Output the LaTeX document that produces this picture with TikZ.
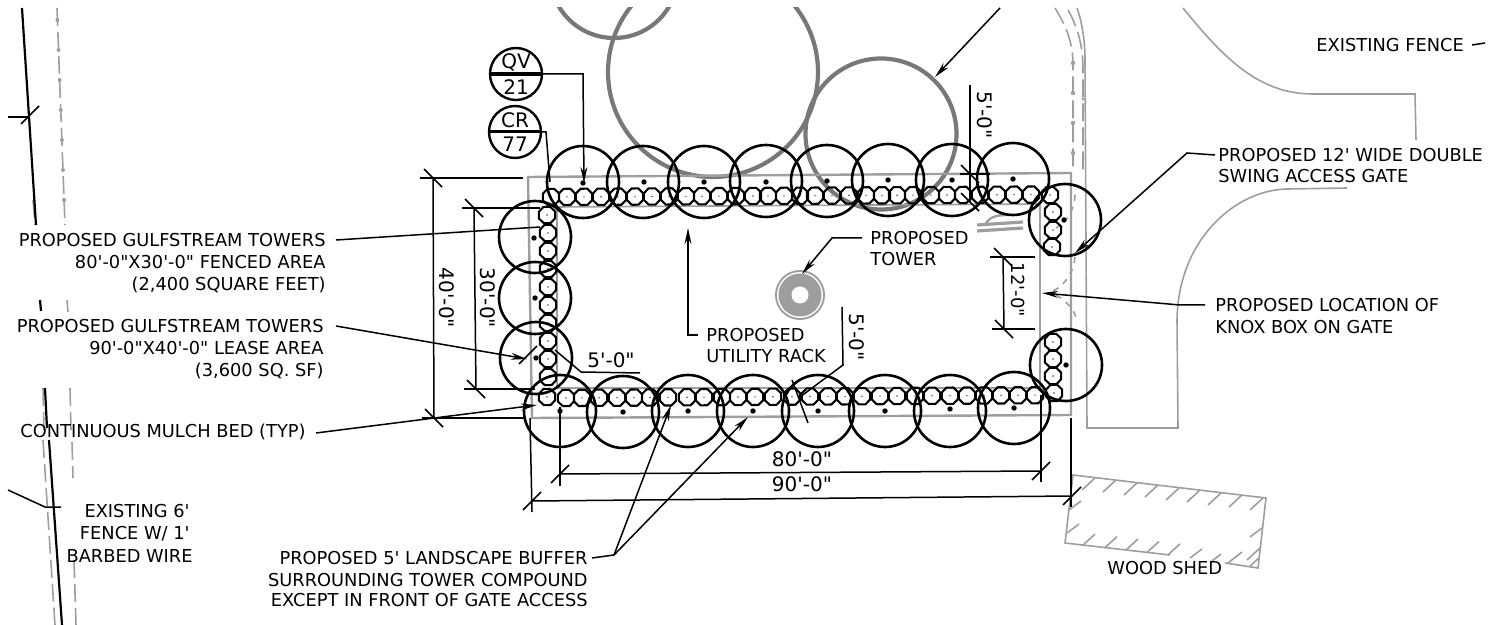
\documentclass[tikz,border=0pt]{standalone}
\usepackage{fontspec}
\usetikzlibrary{arrows.meta}
\newfontfamily\cadfont{DejaVu Sans}
\definecolor{plangray}{gray}{0.62}
\definecolor{treegray}{gray}{0.47}
\tikzset{
  lbl/.style={font=\cadfont\fontsize{8.9}{9}\selectfont,inner sep=0pt,text=black},
  dimlbl/.style={font=\cadfont\fontsize{10}{10}\selectfont,inner sep=0pt,text=black},
  dimsmall/.style={font=\cadfont\fontsize{9}{10}\selectfont,inner sep=0pt,text=black},
  tree/.style={draw=black,line width=1.3pt},
  bigtree/.style={draw=treegray,line width=2.1pt},
  shrubline/.style={draw=black,line width=1.05pt,line join=round},
  leader/.style={draw=black,line width=0.75pt},
  arrowed/.style={leader,-{Stealth[length=8pt,width=3.4pt]}},
  dimline/.style={draw=black,line width=0.75pt},
  site/.style={draw=plangray,line width=0.8pt},
  fencedash/.style={draw=plangray,line width=0.8pt,dash pattern=on 9pt off 3pt},
  compound/.style={draw=plangray,line width=1.2pt},
}
\newcommand{\shrubat}[2]{%
  \draw[shrubline,shift={({#1},{#2})}] (22:8.8)--(67:8.8)--(112:8.8)--(157:8.8)--(202:8.8)--(247:8.8)--(292:8.8)--(337:8.8)--cycle;
  \fill[black!70] ({#1},{#2}) circle (0.8);}
\newcommand{\tickdown}[2]{\draw[dimline] (#1-9,#2-9)--(#1+9,#2+9);}
\newcommand{\tickup}[2]{\draw[dimline] (#1-9,#2+9)--(#1+9,#2-9);}
\begin{document}
\begin{tikzpicture}[x=0.5pt,y=-0.5pt]
\useasboundingbox (0,0) rectangle (1499,625);
\begin{scope}
\clip (0,8) rectangle (1499,625);
% big existing trees
\draw[bigtree] (614,-26) circle (64);
\draw[bigtree] (713,72) circle (105);
\draw[bigtree] (881,134) circle (75.5);
% existing site lines
\draw[site] (1183,8) .. controls (1225,60) and (1260,94) .. (1313,94) -- (1415,94) -- (1416,140);
\draw[site] (1347,188) -- (1287,189) .. controls (1235,190) and (1178,240) .. (1177,320) -- (1178,428) -- (1087,428) -- (1085,60) .. controls (1085,40) and (1082,22) .. (1077,8);
\draw[fencedash] (1055,8) .. controls (1066,26) and (1073,42) .. (1073,65) -- (1073,172);
\draw[fencedash] (1068,10) .. controls (1078,28) and (1083,46) .. (1083,70) -- (1083,172);
% left existing fence
\draw[fencedash] (57,8) -- (65,225);
\draw[fencedash] (67,300) -- (68,312);
\draw[fencedash] (70,388) -- (71,430);
\draw[fencedash] (72,442) -- (73,478);
\draw[fencedash] (74,560) -- (76,625);
\draw[fencedash] (33,200) -- (35,225);
\draw[fencedash] (43,388) -- (44,430);
\draw[fencedash] (43,440) -- (55,625);
\end{scope}
\foreach \b in {20,50,80,110,140,170,200}{\fill[plangray] ({57+(\b-8)*0.0369},\b) circle (2);}
\foreach \b in {63,93,123,153}{\fill[plangray] (1073,\b) circle (2.2);\fill[plangray] (1083,\b+6) circle (1.6);}
\draw[black,line width=1.1pt] (22,8) -- (36,225);
\draw[black,line width=1.1pt] (40,300) -- (41,311);
\draw[black,line width=1.1pt] (45,388) -- (47,428);
\draw[black,line width=1.1pt] (49,440) -- (62,625);
% compound
\draw[compound] (528,177) -- (1071,173) -- (1071,415) -- (532,418) -- cycle;
\draw[site] (1040,257) -- (1040,204) -- (557,207) -- (557,388) -- (1040,388) -- (1040,330);
\draw[site] (1040,257) -- (1040,330);
\draw[site,dashed] (1075,257) .. controls (1074,272) and (1064,288) .. (1048,293);
\draw[site,dashed] (1056,295) .. controls (1068,302) and (1076,312) .. (1077,322);
\draw[site,dashed] (1075,195) .. controls (1074,212) and (1066,222) .. (1056,228);
% gate hardware
\draw[plangray,line width=1.6pt] (977,225) -- (1023,222);
\draw[plangray,line width=1.6pt] (977,231) -- (1023,228);
\draw[plangray,line width=1.2pt] (985,225) .. controls (990,215) and (1000,215) .. (1010,215);
% wood shed
\draw[site] (1170,555) -- (1065,543) -- (1073,475) -- (1266,498) -- (1258,568) -- (1225,563);
\foreach \a/\b in {1095/478,1116/480,1137/483,1158/485,1179/488,1200/490,1221/493,1242/495,1263/498}{
  \draw[site] (\a,\b) -- ++(-13,12);}
\foreach \a in {1083,1105,1126,1147,1168}{
  \draw[site] (\a,{543+(\a-1065)*0.115}) -- ++(12,-11);}
\draw[site] (1190,558) -- ++(12,-9);
\draw[site] (1212,561) -- ++(9,-7);
\draw[site] (1228,563) -- ++(14,-11);
\draw[site] (1262,528) -- ++(-12,9);
\draw[site] (1260,548) -- ++(-13,12);
\draw[site] (1250,566) -- ++(9,-8);
\draw[site] (1069,510) -- ++(12,-9);
\draw[site] (1067,533) -- ++(12,-9);
% tower
\fill[plangray] (800,295) circle (25);
\fill[white] (800,295) circle (23);
\fill[plangray] (800,295) circle (21.5);
\fill[white] (800,295) circle (8.5);
% shrubs
\foreach \a in {551,567,584,601,618,635,652,669,686,702,719,736,753,768,784,800,815,832,849,866,882,897,913,931,947,963,980,997,1014,1031}{
  \shrubat{\a}{197-(\a-551)*0.005}}
\shrubat{1050}{195}
\foreach \a/\b in {547/215,548/233,548/251,548/269,548/287,548/305,548/323,548/341,548/359,548/377,547/397}{\shrubat{\a}{\b}}
\foreach \a/\b in {1053/212,1053/230,1052/247,1053/342,1053/359,1053/376,1054/393}{\shrubat{\a}{\b}}
\foreach \a in {566,582,599,617,634,650,668,687,704,722,738,755,773,792,810,828,845,862,880,897,915,932,950,967,984,1001,1018,1035}{
  \shrubat{\a}{398-(\a-566)*0.006}}
% trees
\foreach \a/\b in {583/182,643/182,704/182,766/181,827/181,888/180,952/180,1013/179,
                   560/411,623/412,688/411,753/411,818/411,885/411,950/411,1014/408,
                   535/237,535/298,536/358,1065/220,1066/365}{
  \draw[tree] (\a,\b) circle (36);}
\foreach \a/\b in {583/183,644/182,704/182,766/182,827/181,888/180,952/180,1013/179,
                   560/411,623/412,688/411,753/411,818/411,885/411,950/409,1014/408,
                   534/238,535/298,536/358,1064/220,1066/365}{
  \fill[black] (\a,\b) circle (2.7);}
% detail callouts
\draw[tree,line width=1.2pt] (516,74) circle (26);
\draw[tree,line width=1.2pt] (515,132) circle (26);
\draw[black,line width=2.2pt] (490,74) -- (542,74);
\draw[black,line width=1.5pt] (489,132) -- (541,132);
\node[dimlbl] (qv) at (516,62) {QV};
\node[dimlbl] (qvn) at (516,87) {21};
\node[dimlbl] (cr) at (515,120) {CR};
\node[dimlbl] (crn) at (515,144) {77};
\coordinate (qvtip) at (584,183);
\coordinate (crtip) at (550,182);
\coordinate (qvrim) at (542,74);
\coordinate (crrim) at (541,132);
\draw[arrowed] (qvrim) -- (583,74) -- (qvtip);
\draw[leader] (crrim) -- (546,132) -- (crtip);
% labels
\node[lbl,anchor=east] (ga) at (326,240) {PROPOSED GULFSTREAM TOWERS};
\node[lbl,anchor=east] (gb) at (326,262) {80'-0"X30'-0" FENCED AREA};
\node[lbl,anchor=east] (gc) at (326,285) {(2,400 SQUARE FEET)};
\node[lbl,anchor=east] (la) at (324,326) {PROPOSED GULFSTREAM TOWERS};
\node[lbl,anchor=east] (lb) at (324,348) {90'-0"X40'-0" LEASE AREA};
\node[lbl,anchor=east] (lc) at (324,371) {(3,600 SQ. SF)};
\node[lbl,anchor=west] (mb) at (20,432) {CONTINUOUS MULCH BED (TYP)};
\node[lbl,anchor=east] (fa) at (190,511) {EXISTING 6'};
\node[lbl,anchor=east] (fb) at (190,534) {FENCE W/ 1'};
\node[lbl,anchor=east] (fc) at (193,556) {BARBED WIRE};
\node[lbl,anchor=east] (ba) at (588,558) {PROPOSED 5' LANDSCAPE BUFFER};
\node[lbl,anchor=east] (bb) at (588,580) {SURROUNDING TOWER COMPOUND};
\node[lbl,anchor=east] (bc) at (588,600) {EXCEPT IN FRONT OF GATE ACCESS};
\node[lbl,anchor=west] (ws) at (1107,568) {WOOD SHED};
\node[lbl,anchor=west] (ka) at (1218,155) {PROPOSED 12' WIDE DOUBLE};
\node[lbl,anchor=west] (kb) at (1218,176) {SWING ACCESS GATE};
\node[lbl,anchor=west] (na) at (1215,305) {PROPOSED LOCATION OF};
\node[lbl,anchor=west] (nb) at (1215,327) {KNOX BOX ON GATE};
\node[lbl,anchor=west] (ef) at (1316,45) {EXISTING FENCE};
\node[lbl,anchor=west] (ua) at (706,335) {PROPOSED};
\node[lbl,anchor=west] (ub) at (706,356) {UTILITY RACK};
\node[lbl,anchor=west] (ta) at (870,238) {PROPOSED};
\node[lbl,anchor=west] (tb) at (870,259) {TOWER};
% leaders
\coordinate (gtip) at (540,227);
\coordinate (ltip) at (527,359);
\coordinate (mtip) at (537,405);
\coordinate (b1) at (671,405);
\coordinate (b2) at (748,417);
\coordinate (btrunk) at (614,555);
\coordinate (gatetip) at (1075,253);
\coordinate (gateelbow) at (1187,153);
\coordinate (knoxtip) at (1042,293);
\coordinate (knoxelbow) at (1180,305);
\coordinate (utip) at (688,228);
\coordinate (uelbow) at (688,335);
\coordinate (ttip) at (802,274);
\coordinate (telbow) at (832,238);
\coordinate (treetip) at (935,77);
\coordinate (treetop) at (1000,8);
\coordinate (efend) at (1485,43);
\coordinate (fenceelbow) at (45,507);
\coordinate (fenceend) at (8,490);
\coordinate (fencetip) at (61,507);
\coordinate (topstub) at (8,117);
\coordinate (topstubend) at (30,117);
\draw[leader] ([xshift=5pt]ga.east) -- (gtip);
\draw[arrowed] ([xshift=6pt]la.east) -- (ltip);
\draw[arrowed] ([xshift=5pt,yshift=-0.5pt]mb.east) -- (mtip);
\draw[leader] ([xshift=2pt]ba.east) -- (btrunk);
\draw[arrowed] (btrunk) -- (b1);
\draw[arrowed] (btrunk) -- (b2);
\draw[arrowed] ([xshift=-1.5pt]ka.west) -- (gateelbow) -- (gatetip);
\draw[arrowed] ([xshift=-5pt]na.west) -- (knoxelbow) -- (knoxtip);
\draw[arrowed] ([xshift=-4pt]ua.west) -- (uelbow) -- (utip);
\draw[arrowed] ([xshift=-4pt]ta.west) -- (telbow) -- (ttip);
\draw[arrowed] (treetop) -- (treetip);
\draw[leader] ([xshift=4pt]ef.east) -- (efend);
\draw[leader] (fenceend) -- (fenceelbow) -- (fencetip);
\draw[leader] (topstub) -- (topstubend);
\tickup{30}{115}
% dimensions
\coordinate (d40a) at (433,178);
\coordinate (d40b) at (434,418);
\draw[dimline] (420,178) -- (523,178);
\draw[dimline] (422,418) -- (525,418);
\draw[dimline] (d40a) -- (d40b);
\tickdown{433}{178}\tickdown{434}{418}
\node[dimlbl,rotate=-90] (d40) at (447,298) {40'-0"};
\coordinate (d30a) at (474,208);
\coordinate (d30b) at (476,389);
\draw[dimline] (462,208) -- (540,208);
\draw[dimline] (464,389) -- (535,389);
\draw[dimline] (d30a) -- (d30b);
\tickdown{474}{208}\tickdown{476}{389}
\node[dimlbl,rotate=-90] (d30) at (488,298) {30'-0"};
\coordinate (d80a) at (560,474);
\coordinate (d80b) at (1041,471);
\draw[dimline] (560,407) -- (560,486);
\draw[dimline] (1041,395) -- (1041,482);
\draw[dimline] (d80a) -- (d80b);
\tickup{560}{474}\tickup{1041}{471}
\node[dimlbl] (d80) at (802,459) {80'-0"};
\coordinate (d90a) at (532,501);
\coordinate (d90b) at (1072,496);
\draw[dimline] (530,418) -- (532,512);
\draw[dimline] (1071,418) -- (1071,507);
\draw[dimline] (d90a) -- (d90b);
\tickup{532}{501}\tickup{1072}{496}
\node[dimlbl] (d90) at (802,484) {90'-0"};
\coordinate (d12a) at (1003,257);
\coordinate (d12b) at (1004,329);
\draw[dimline] (990,257) -- (1035,257);
\draw[dimline] (992,329) -- (1035,329);
\draw[dimline] (d12a) -- (d12b);
\tickdown{1003}{257}\tickdown{1004}{329}
\node[dimsmall,rotate=-90] (d12) at (1018,290) {12'-0"};
\coordinate (d5ta) at (970,85);
\coordinate (d5tb) at (970,202);
\draw[dimline] (d5ta) -- (d5tb);
\draw[dimline] (960,174) -- (990,174);
\tickdown{970}{174}\tickdown{970}{202}
\node[dimlbl,rotate=-90] (d5t) at (985,115) {5'-0"};
\coordinate (d5ra) at (842,307);
\coordinate (d5rb) at (843,365);
\coordinate (d5rc) at (800,397);
\draw[dimline] (d5ra) -- (d5rb) -- (d5rc);
\draw[dimline] (792,380) -- (808,423);
\node[dimlbl,rotate=-90] (d5r) at (857,337) {5'-0"};
\coordinate (d5la) at (640,373);
\coordinate (d5lb) at (581,372);
\coordinate (d5lc) at (555,350);
\draw[dimline] (d5la) -- (d5lb) -- (d5lc);
\tickup{528}{355}
\node[dimlbl] (d5l) at (611,360) {5'-0"};
\end{tikzpicture}
\end{document}
